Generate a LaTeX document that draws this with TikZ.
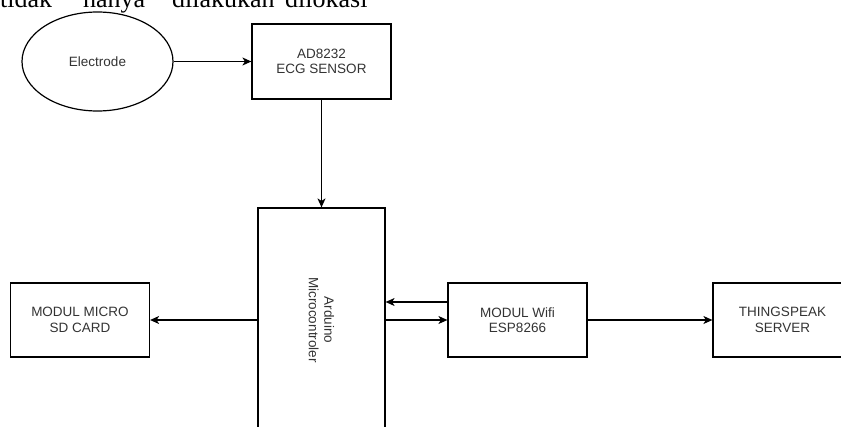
\documentclass[tikz,border=0pt]{standalone}
\usepackage{fontspec}
\setmainfont{Liberation Sans}
\newfontfamily\pageserif{Liberation Serif}
\usetikzlibrary{shapes.geometric,arrows.meta}

\tikzset{
  blok/.style={draw, line width=1.2pt, rectangle, minimum width=139pt, minimum height=74pt,
    align=center, text=black!80, font=\fontsize{13.5}{15.5}\selectfont},
  tulisan/.style={align=center, text=black!80, font=\fontsize{13.5}{15.5}\selectfont},
  panah/.style={-{Stealth[length=9pt, width=8pt, inset=2.5pt]}, line width=1.2pt},
  kata/.style={anchor=base west, inner sep=0pt, font=\pageserif\fontsize{26}{28}\selectfont}
}

\begin{document}
\begin{tikzpicture}[x=1pt, y=-1pt]
            \clip (0,0) rectangle (841,426);

            % sisa teks halaman di atas gambar
            \node[kata] (w1) at (0,7) {tidak};
            \node[kata] (w2) at (83,7) {hanya};
            \node[kata] (w3) at (172,7) {dilakukan};
            \node[kata] (w4) at (285,7) {dilokasi};

            \node[draw, line width=1.2pt, ellipse, minimum width=151pt, minimum height=99pt,
                tulisan] (elec) at (97.5,61.5) {Electrode};
            \node[blok, minimum height=75pt] (ad) at (321.5,61.5) {AD8232\\ECG SENSOR};

            \node[blok, minimum width=127pt, minimum height=224pt] (ard) at (321.5,320) {};
            \node[tulisan, rotate=-90] (ardtxt) at (ard) {Arduino\\Microcontroler};

            \node[blok] (sd) at (80,320) {MODUL MICRO\\SD CARD};
            \node[blok] (wifi) at (517.5,320) {MODUL Wifi\\ESP8266};
            \node[blok] (ts) at (782.5,320) {THINGSPEAK\\SERVER};

            \draw[panah] (elec) -- (ad);
            \draw[panah] (ad) -- (ard);
            \draw[panah] (ard) -- (sd);
            \draw[panah] (ard) -- (wifi);
            \draw[panah] ([yshift=18pt]wifi.west) -- ([yshift=18pt]wifi.west -| ard.east);
            \draw[panah] (wifi) -- (ts);
        \end{tikzpicture}
\end{document}
